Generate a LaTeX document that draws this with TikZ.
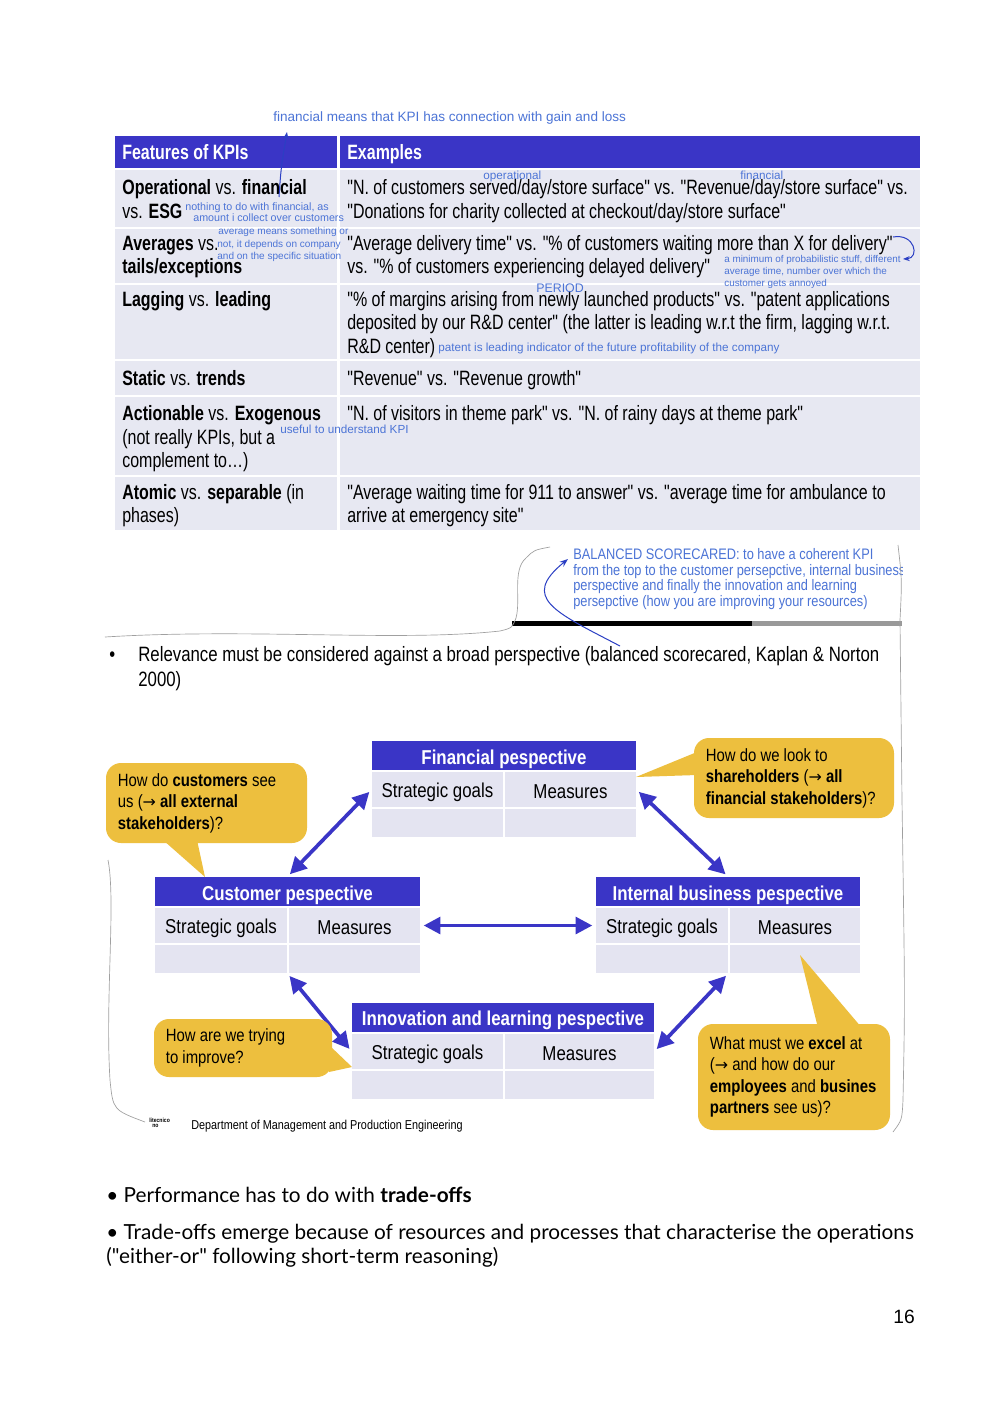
\documentclass[tikz,border=0pt]{standalone}
\usepackage{fontspec}
\setmainfont{Liberation Sans}[FakeStretch=0.77, Ligatures=TeXOff]
\newfontfamily\arialfont{Liberation Sans}[Ligatures=TeXOff]
\newfontfamily\slidefont{Liberation Sans}[FakeStretch=0.84, Ligatures=TeXOff]
\newfontfamily\relfont{Liberation Sans}[FakeStretch=0.81, Ligatures=TeXOff]
\newfontfamily\notefont{Lato}[Ligatures=TeXOff]
\newfontfamily\symfont{DejaVu Sans}
\newcommand{\rarr}{{\symfont\fontsize{9.5}{10}\selectfont →}}
\usetikzlibrary{arrows.meta,fit}

\definecolor{kpiblue}{HTML}{3A35C6}
\definecolor{rowgray}{HTML}{E7E8F2}
\definecolor{cellgray}{HTML}{E4E4F1}
\definecolor{penblue}{HTML}{2B3FC4}
\definecolor{noteblue}{HTML}{4C74D6}
\definecolor{callyellow}{HTML}{EDBF3E}
\definecolor{sketchgray}{HTML}{A0A0A0}

% one perspective table: name, left x, divider x, right x, top y, title
\newcommand{\perspbox}[6]{%
  \node[phead, fit={(#2,#5) (#4,#5+29)}, label={[hlabel]center:#6}] (#1) {};
  \node[pcell, fit={(#2,#5+31) (#3-1,#5+66)}, label={[clabel]center:Strategic goals}] (#1-g) {};
  \node[pcell, fit={(#3+1,#5+31) (#4,#5+66)}, label={[clabel]center:Measures}] (#1-m) {};
  \node[pcell, fit={(#2,#5+68) (#3-1,#5+96)}] (#1-g2) {};
  \node[pcell, fit={(#3+1,#5+68) (#4,#5+96)}] (#1-m2) {};
}

\begin{document}
\begin{tikzpicture}[
    x=0.21mm, y=-0.21mm,
    txt/.style={anchor=base west, inner sep=0pt, font=\fontsize{12.4}{14}\selectfont},
    hdr/.style={anchor=base west, inner sep=0pt, text=white, font=\bfseries\fontsize{12.4}{14}\selectfont},
    note/.style={anchor=base west, inner sep=0pt, text=noteblue, font=\arialfont\fontsize{8.1}{9}\selectfont},
    tinynote/.style={anchor=base west, inner sep=0pt, text=noteblue, font=\arialfont\fontsize{6.2}{7}\selectfont},
    phead/.style={fill=kpiblue, inner sep=0pt},
    pcell/.style={fill=cellgray, inner sep=0pt},
    hlabel/.style={text=white, inner sep=0pt, yshift=-0.7mm, font=\slidefont\bfseries\fontsize{12}{14}\selectfont},
    clabel/.style={inner sep=0pt, yshift=-0.55mm, font=\slidefont\fontsize{12}{14}\selectfont},
    callout/.style={fill=callyellow, rounded corners=9pt, inner sep=0pt},
    calltext/.style={anchor=west, align=left, inner xsep=2.5mm, inner ysep=0pt, font=\slidefont\fontsize{10.6}{12.9}\selectfont},
    link/.style={{Triangle[length=10pt,width=10pt]}-{Triangle[length=10pt,width=10pt]}, line width=2.2pt, draw=kpiblue, shorten <=2pt, shorten >=2pt},
    pen/.style={draw=penblue, line width=0.6pt},
    sketch/.style={draw=sketchgray, line width=0.4pt},
    bscline/.style={anchor=base west, inner sep=0pt, text=noteblue, font=\slidefont\fontsize{9.1}{10}\selectfont},
    closing/.style={anchor=base west, inner sep=0pt, font=\notefont\fontsize{12.4}{14}\selectfont}
]
\useasboundingbox (0,0) rectangle (1000,1414);
\fill[white] (0,0) rectangle (1000,1414);

% KPI table
\fill[kpiblue] (115,136) rectangle (337,168);
\fill[kpiblue] (340,136) rectangle (920,168);
\foreach \a/\b in {170/227, 229/283, 285/359, 361/395, 397/475, 477/530} {
  \fill[rowgray] (115,\a) rectangle (337,\b);
  \fill[rowgray] (340,\a) rectangle (920,\b);
}
\node[hdr] (feat) at (122,159) {Features of KPIs};
\node[hdr] (exam) at (347,159) {Examples};

\node[txt] (r1a) at (122,194) {\textbf{Operational} vs. \textbf{financial}};
\node[txt] (r1b) at (122,218) {vs. \textbf{ESG}};
\node[txt] (r2a) at (122,250) {\textbf{Averages} vs.};
\node[txt] (r2b) at (122,273) {\textbf{tails/exceptions}};
\node[txt] (r3a) at (122,306) {\textbf{Lagging} vs. \textbf{leading}};
\node[txt] (r4a) at (122,385) {\textbf{Static} vs. \textbf{trends}};
\node[txt] (r5a) at (122,420) {\textbf{Actionable} vs. \textbf{Exogenous}};
\node[txt] (r5b) at (122,444) {(not really KPIs, but a};
\node[txt] (r5c) at (122,467) {complement to…)};
\node[txt] (r6a) at (122,499) {\textbf{Atomic} vs. \textbf{separable} (in};
\node[txt] (r6b) at (122,522) {phases)};

\node[txt] (e1a) at (347,194) {"N. of customers served/day/store surface" vs. "Revenue/day/store surface" vs.};
\node[txt] (e1b) at (347,218) {"Donations for charity collected at checkout/day/store surface"};
\node[txt] (e2a) at (347,250) {"Average delivery time" vs. "\% of customers waiting more than X for delivery"};
\node[txt] (e2b) at (347,273) {vs. "\% of customers experiencing delayed delivery"};
\node[txt] (e3a) at (347,306) {"\% of margins arising from newly launched products" vs. "patent applications};
\node[txt] (e3b) at (347,329) {deposited by our R\&D center" (the latter is leading w.r.t the firm, lagging w.r.t.};
\node[txt] (e3c) at (347,353) {R\&D center)};
\node[txt] (e4a) at (347,385) {"Revenue" vs. "Revenue growth"};
\node[txt] (e5a) at (347,420) {"N. of visitors in theme park" vs. "N. of rainy days at theme park"};
\node[txt] (e6a) at (347,499) {"Average waiting time for 911 to answer" vs. "average time for ambulance to};
\node[txt] (e6b) at (347,522) {arrive at emergency site"};

% handwritten notes on the table
\node[note] (n-fin) at (273,121) {financial means that KPI has connection with gain and loss};
\node[tinynote, font=\arialfont\fontsize{7}{8}\selectfont] (n-op) at (483,179) {operational};
\node[tinynote, font=\arialfont\fontsize{7}{8}\selectfont] (n-fi) at (740,179) {financial};
\node[tinynote, font=\arialfont\fontsize{6.4}{7}\selectfont] (n-esg1) at (185,210) {nothing to do with financial, as};
\node[tinynote, font=\arialfont\fontsize{6.4}{7}\selectfont] (n-esg2) at (193,221) {amount i collect over customers};
\node[tinynote, font=\arialfont\fontsize{6}{7}\selectfont] (n-avg1) at (218,234) {average means something or};
\node[tinynote, font=\arialfont\fontsize{6}{7}\selectfont] (n-avg2) at (217,247) {not, it depends on company};
\node[tinynote, font=\arialfont\fontsize{6}{7}\selectfont] (n-avg3) at (217,259) {and on the specific situation};
\node[tinynote, font=\arialfont\fontsize{5.9}{7}\selectfont] (n-min1) at (724,262) {a minimum of probabilistic stuff, different};
\node[tinynote, font=\arialfont\fontsize{5.9}{7}\selectfont] (n-min2) at (724,274) {average time, number over which the};
\node[tinynote, font=\arialfont\fontsize{5.9}{7}\selectfont] (n-min3) at (724,286) {customer gets annoyed};
\node[note, font=\arialfont\fontsize{7.4}{8}\selectfont] (n-per) at (536,292) {PERIOD};
\node[tinynote, font=\arialfont\fontsize{7}{8}\selectfont] (n-pat) at (438,351) {patent is leading indicator of the future profitability of the company};
\node[tinynote, font=\arialfont\fontsize{7}{8}\selectfont] (n-use) at (280,433) {useful to understand KPI};

\coordinate (fin-word) at (279,197);
\coordinate (fin-top) at (287,132);
\draw[pen, -{Stealth[length=4pt]}] (fin-word) .. controls (281,168) .. (fin-top);
\coordinate (del-end) at (893,237);
\coordinate (del-tip) at (903,259);
\draw[pen, -{Stealth[length=4pt]}] (del-end) .. controls (915,233) and (920,258) .. (del-tip);

% balanced scorecard note
\begin{scope}
  \clip (560,540) rectangle (902,615);
  \node[bscline] (bsc1) at (573,559) {BALANCED SCORECARED: to have a coherent KPI};
  \node[bscline] (bsc2) at (573,575) {from the top to the customer persepctive, internal business};
  \node[bscline] (bsc3) at (573,590) {perspective and finally the innovation and learning};
  \node[bscline] (bsc4) at (573,606) {persepctive (how you are improving your resources)};
\end{scope}
\fill[black] (512,621) rectangle (752,626);
\fill[black!40] (752,621) rectangle (902,626);
\coordinate (bsc-from) at (620,646);
\coordinate (bsc-to) at (568,559);
\draw[pen, -{Stealth[length=5pt]}] (bsc-from) .. controls (555,612) and (520,598) .. (bsc-to);

% sketched lasso
\draw[sketch] (105,637) .. controls (250,628) and (400,642) .. (500,631) .. controls (512,628) .. (516,618)
  .. controls (521,600) and (512,570) .. (526,558) .. controls (534,550) .. (550,547);
\draw[sketch] (898,545) .. controls (902,580) .. (900,620) -- (902,800)
  .. controls (905,1000) .. (903,1100) .. controls (902,1120) .. (893,1132);
\draw[sketch] (108,860) .. controls (116,900) and (105,1000) .. (110,1080) .. controls (113,1110) .. (145,1122);

\node[txt, font=\relfont\fontsize{12.4}{14}\selectfont] (bul1) at (109,661) {•};
\node[txt, font=\relfont\fontsize{12.4}{14}\selectfont] (rel1) at (138,661) {Relevance must be considered against a broad perspective (balanced scorecared, Kaplan \& Norton};
\node[txt, font=\relfont\fontsize{12.4}{14}\selectfont] (rel2) at (138,686) {2000)};

% balanced scorecard diagram
\perspbox{fin}{372}{504}{636}{741}{Financial pespective}
\perspbox{cust}{155}{288}{420}{877}{Customer pespective}
\perspbox{int}{596}{729}{860}{877}{Internal business pespective}
\perspbox{inn}{352}{504}{654}{1003}{Innovation and learning pespective}

\draw[link] (fin-g.west) -- (cust.north);
\draw[link] (fin-m.east) -- (int.north);
\draw[link] (cust-m.east) -- (int-g.west);
\draw[link] (cust-g2.south east) -- (inn-g.west);
\draw[link] (int-g2.south east) -- (inn-m.east);

% callouts
\node[callout, fit={(106,763) (307,843)}] (custq) {};
\node[calltext] at (custq.west) {How do \textbf{customers} see\\us (\rarr{} \textbf{all external}\\\textbf{stakeholders})?};
\coordinate (custq-tip) at (205,877);
\fill[callyellow] (163,840) -- (197,840) -- (custq-tip) -- cycle;

\node[callout, fit={(694,738) (894,818)}] (finq) {};
\node[calltext] at (finq.west) {How do we look to\\\textbf{shareholders} (\rarr{} \textbf{all}\\\textbf{financial stakeholders})?};
\coordinate (finq-tip) at (636,777);
\fill[callyellow] (697,752) -- (697,775) -- (finq-tip) -- cycle;

\node[callout, fit={(154,1019) (332,1077)}] (impq) {};
\node[calltext] at (impq.west) {How are we trying\\to improve?};
\coordinate (impq-tip) at (352,1067);
\fill[callyellow] (329,1045) -- (329,1072) -- (impq-tip) -- cycle;

\node[callout, fit={(698,1024) (890,1130)}] (excq) {};
\node[calltext] at (excq.west) {What must we \textbf{excel} at\\(\rarr{} and how do our\\\textbf{employees} and \textbf{busines}\\\textbf{partners} see us)?};
\coordinate (excq-tip) at (800,955);
\fill[callyellow] (818,1028) -- (862,1028) -- (excq-tip) -- cycle;

\node[anchor=base west, inner sep=0pt, font=\slidefont\bfseries\fontsize{3.6}{4}\selectfont] (logo1) at (149,1122) {litecnico};
\node[anchor=base west, inner sep=0pt, font=\slidefont\bfseries\fontsize{3.6}{4}\selectfont] (logo2) at (152,1127) {no};
\node[anchor=base west, inner sep=0pt, font=\slidefont\fontsize{7.7}{8}\selectfont] (dept) at (191,1129) {Department of Management and Production Engineering};

% closing remarks
\node[closing] (perf) at (106,1202) {• Performance has to do with \textbf{trade-offs}};
\node[closing] (trade1) at (106,1239) {• Trade-offs emerge because of resources and processes that characterise the operations};
\node[closing] (trade2) at (106,1263) {("either-or" following short-term reasoning)};
\node[anchor=base west, inner sep=0pt, font=\arialfont\fontsize{11.5}{13}\selectfont] (pnum) at (893,1323) {16};
\end{tikzpicture}
\end{document}
